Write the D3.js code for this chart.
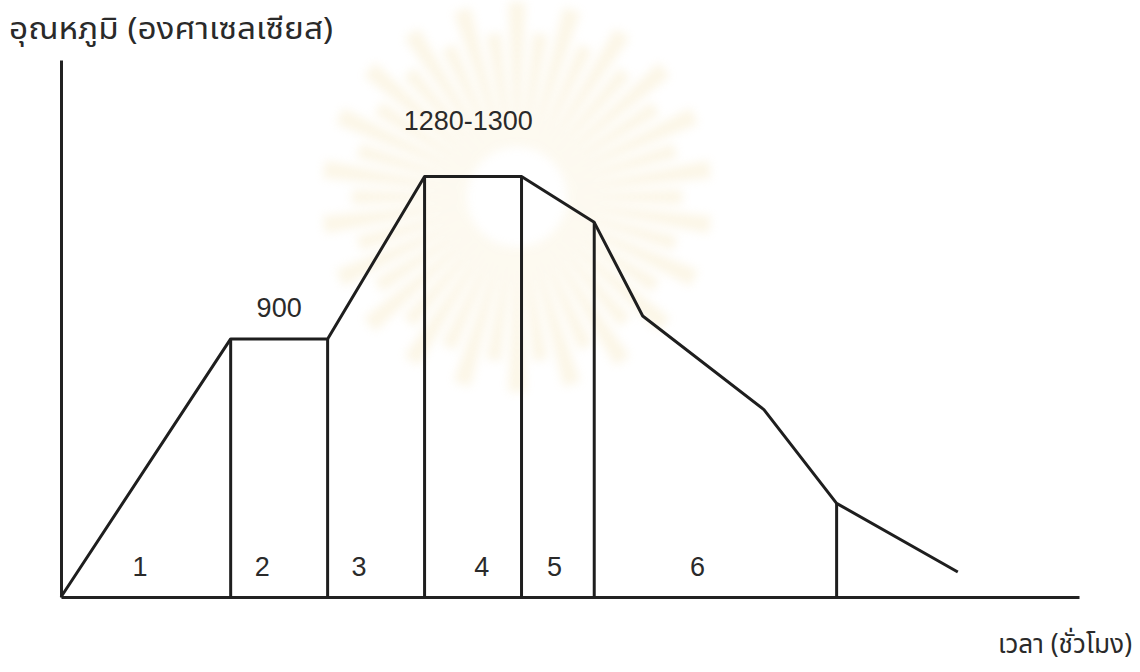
<!DOCTYPE html>
<html>
<head>
<meta charset="utf-8">
<script src="https://cdn.jsdelivr.net/npm/d3@7"></script>
<style>
  html, body { margin: 0; padding: 0; background: #ffffff; }
  svg { display: block; }
  .num { font-family: "Liberation Sans", Arial, Helvetica, sans-serif; fill: #2a2a2a; }
  .thai { font-family: "Noto Sans Thai", "Noto Sans Thai Looped", Tahoma, "DejaVu Sans", sans-serif; fill: #2a2a2a; }
</style>
</head>
<body>
<div id="chart"></div>
<script>
// Firing schedule: temperature (°C) against time (h)
const times        = [0,   3.5, 5.5, 7.5,  9.5,  11,   12,  14.5, 16,  18.5];
const temperatures = [280, 900, 900, 1290, 1290, 1180, 955, 730,  505, 340];

// Phase boundaries (index into the curve points) where a vertical divider is drawn
const dividerIdx   = [1, 2, 3, 4, 5, 8];

// Phase numbers and where each one sits along the time axis
const phaseLabels  = ["1", "2", "3", "4", "5", "6"];
const phaseLabelAt = [1.63, 4.15, 6.15, 8.68, 10.18, 13.13];

// Value annotations
const annotations  = [
  { text: "900",       t: 4.5, temp: 900 },
  { text: "1280-1300", t: 8.4, temp: 1290 }
];

const yTitle = "อุณหภูมิ (องศาเซลเซียส)";
const xTitle = "เวลา (ชั่วโมง)";

const W = 1140, H = 672;
const svg = d3.select("#chart").append("svg").attr("width", W).attr("height", H);

const x = d3.scaleLinear().domain([0, 21]).range([61, 1079]);
const y = d3.scaleLinear().domain([280, 1570]).range([597, 60]);

// Faint sunburst watermark behind the plot
const defs = svg.append("defs");
defs.append("filter").attr("id", "soft")
  .attr("x", "-50%").attr("y", "-50%").attr("width", "200%").attr("height", "200%")
  .append("feGaussianBlur").attr("stdDeviation", 5);
const sun = svg.append("g")
  .attr("transform", "translate(517,197)")
  .attr("filter", "url(#soft)")
  .attr("opacity", 0.2);
const rayCount = 44;
const ray = d3.arc().innerRadius(50).outerRadius(d => d.r);
sun.selectAll("path")
  .data(d3.range(rayCount).map(i => ({
    startAngle: (i / rayCount) * 2 * Math.PI - 0.045,
    endAngle: (i / rayCount) * 2 * Math.PI + 0.045,
    r: i % 2 ? 165 : 195
  })))
  .join("path")
  .attr("d", ray)
  .attr("fill", "#efd48a");

// Axes: plain lines without ticks
const axisColor = "#222";
svg.append("g")
  .attr("transform", `translate(0,${y(280)})`)
  .call(d3.axisBottom(x).tickValues([]).tickSizeOuter(0))
  .call(g => g.select(".domain").attr("stroke", axisColor).attr("stroke-width", 3));
svg.append("g")
  .attr("transform", `translate(${x(0)},0)`)
  .call(d3.axisLeft(y).tickValues([]).tickSizeOuter(0))
  .call(g => g.select(".domain").attr("stroke", axisColor).attr("stroke-width", 3));

// Temperature curve
const pts = times.map((t, i) => ({ t, temp: temperatures[i] }));
const line = d3.line().x(d => x(d.t)).y(d => y(d.temp));
svg.append("path")
  .datum(pts)
  .attr("d", line)
  .attr("fill", "none")
  .attr("stroke", "#1e1e1e")
  .attr("stroke-width", 3)
  .attr("stroke-linejoin", "round");

// Vertical phase dividers
svg.append("g").selectAll("line")
  .data(dividerIdx.map(i => pts[i]))
  .join("line")
  .attr("x1", d => x(d.t)).attr("x2", d => x(d.t))
  .attr("y1", d => y(d.temp)).attr("y2", y(280))
  .attr("stroke", "#1e1e1e")
  .attr("stroke-width", 3);

// Phase numbers
svg.append("g").selectAll("text")
  .data(phaseLabels)
  .join("text")
  .attr("class", "num")
  .attr("x", (d, i) => x(phaseLabelAt[i]))
  .attr("y", 576)
  .attr("text-anchor", "middle")
  .attr("font-size", 27)
  .text(d => d);

// Temperature annotations
svg.append("g").selectAll("text")
  .data(annotations)
  .join("text")
  .attr("class", "num")
  .attr("x", d => x(d.t))
  .attr("y", d => y(d.temp) - (d.temp === 900 ? 22 : 47))
  .attr("text-anchor", "middle")
  .attr("font-size", 27)
  .text(d => d.text);

// Axis titles
svg.append("text")
  .attr("class", "thai")
  .attr("x", 9).attr("y", 39)
  .attr("font-size", 31)
  .attr("textLength", 324)
  .attr("lengthAdjust", "spacingAndGlyphs")
  .text(yTitle);
svg.append("text")
  .attr("class", "thai")
  .attr("x", 998).attr("y", 653)
  .attr("font-size", 27)
  .attr("textLength", 134)
  .attr("lengthAdjust", "spacingAndGlyphs")
  .text(xTitle);
</script>
</body>
</html>
